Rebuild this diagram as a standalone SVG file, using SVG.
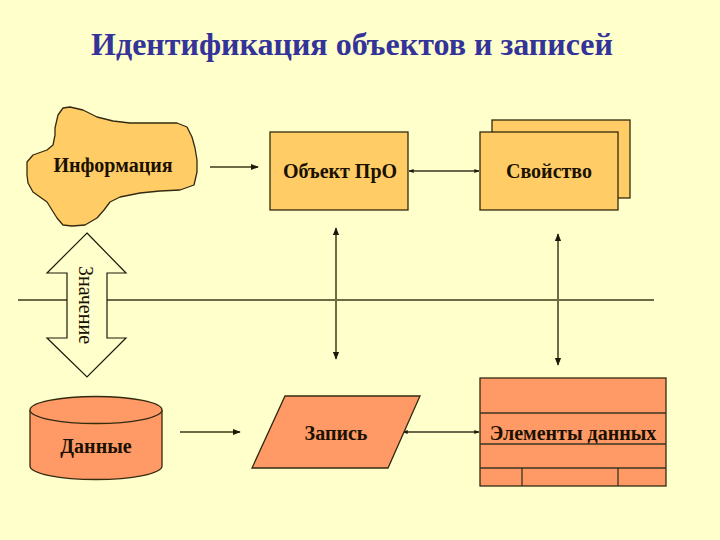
<svg xmlns="http://www.w3.org/2000/svg" width="720" height="540" viewBox="0 0 720 540">
<defs>
<style>
.bg{fill:#FFFFCC}
.top{fill:#FFCC66;stroke:#332a10;stroke-width:1.3}
.bot{fill:#FF9966;stroke:#332a10;stroke-width:1.3}
.lbl{font-family:"Liberation Serif","Times New Roman",serif;font-weight:bold;font-size:20px;fill:#1a1100;text-anchor:middle}
.title{font-family:"Liberation Serif","Times New Roman",serif;font-weight:bold;font-size:32px;fill:#333399;text-anchor:middle}
.ln{stroke:#6e6a45;stroke-width:2;fill:none}
.thin{stroke:#3a3520;stroke-width:1.3;fill:none}
</style>
<marker id="ah" viewBox="0 0 10 10" refX="9" refY="5" markerWidth="4" markerHeight="4" orient="auto-start-reverse" markerUnits="strokeWidth">
<path d="M0,1 L10,5 L0,9 z" fill="#1a1a0a"/>
</marker>
</defs>
<rect class="bg" x="0" y="0" width="720" height="540"/>
<text class="title" x="352" y="55">Идентификация объектов и записей</text>

<g id="connectors">
<line class="ln" x1="18" y1="300" x2="654" y2="300"/>
<line class="ln" x1="210" y1="167" x2="258" y2="167" marker-end="url(#ah)"/>
<line class="thin" x1="409" y1="171" x2="479" y2="171" marker-start="url(#ah)" marker-end="url(#ah)"/>
<line class="ln" x1="336" y1="228" x2="336" y2="359" marker-start="url(#ah)" marker-end="url(#ah)"/>
<line class="ln" x1="558" y1="234" x2="558" y2="365" marker-start="url(#ah)" marker-end="url(#ah)"/>
<line class="ln" x1="180" y1="432" x2="240" y2="432" marker-end="url(#ah)"/>
<line class="thin" x1="403" y1="432" x2="479" y2="432" marker-start="url(#ah)" marker-end="url(#ah)"/>
</g>

<g id="info">
<path class="top" d="M58,115 L63,108 L70,107 L83,110 L97,117 L113,121 L130,123 L155,123 L177,123 L187,127 L192,137 L195,148 L197,160 L197,172 L194,185 L180,190 L160,191 L140,193 L120,197 L110,202 L104,210 L97,218 L85,225 L72,226 L63,225 L57,218 L52,210 L47,202 L40,197 L33,192 L28,183 L27,175 L27,162 L33,155 L47,150 L53,145 L55,135 L55,128 Z" stroke-linejoin="round"/>
<text class="lbl" x="113" y="172">Информация</text>
</g>

<g id="object">
<rect class="top" x="270" y="132" width="138" height="78"/>
<text class="lbl" x="340" y="178">Объект ПрО</text>
</g>

<g id="property">
<rect class="top" x="492" y="120" width="138" height="78"/>
<rect class="top" x="480" y="132" width="138" height="78"/>
<text class="lbl" x="549" y="178">Свойство</text>
</g>

<g id="value">
<path d="M87,233 L126,273 L107,273 L107,338 L126,338 L87,377 L47,338 L67,338 L67,273 L47,273 Z" fill="#FFFFCC" stroke="#1a1a0a" stroke-width="1.2"/>
<text x="0" y="0" transform="translate(79,305) rotate(90)" font-family="'Liberation Serif','Times New Roman',serif" font-size="20" fill="#1a1100" text-anchor="middle">Значение</text>
</g>

<g id="data">
<path class="bot" d="M30,410 L30,466 A66,13.5 0 0 0 162,466 L162,410"/>
<ellipse class="bot" cx="96" cy="410" rx="66" ry="13.5"/>
<text class="lbl" x="96" y="453">Данные</text>
</g>

<g id="record">
<polygon class="bot" points="285,396 420,396 388,468 252,468"/>
<text class="lbl" x="336" y="440">Запись</text>
</g>

<g id="elements">
<rect class="bot" x="480" y="378" width="186" height="108"/>
<line class="thin" x1="480" y1="413" x2="666" y2="413"/>
<line class="thin" x1="480" y1="444" x2="666" y2="444"/>
<line class="thin" x1="480" y1="468" x2="666" y2="468"/>
<line class="thin" x1="522" y1="468" x2="522" y2="486"/>
<line class="thin" x1="618" y1="468" x2="618" y2="486"/>
<text class="lbl" x="573" y="440">Элементы данных</text>
</g>
</svg>
